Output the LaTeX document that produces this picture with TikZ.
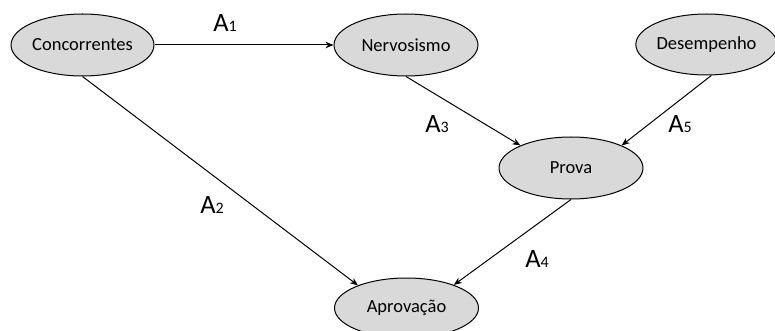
\documentclass[tikz,border=0pt]{standalone}
\usepackage{fontspec}
\setmainfont{Carlito}
\usetikzlibrary{shapes.geometric,arrows.meta}
\definecolor{nodefill}{HTML}{D9D9D9}
\tikzset{
  var/.style={ellipse, draw=black, line width=1pt, fill=nodefill, inner sep=0pt,
    font=\fontsize{18.5}{21}\selectfont},
  link/.style={draw=black, line width=1pt, -{Stealth[length=8pt,width=6.5pt]}},
  lbl/.style={inner sep=0pt, anchor=base},
}
\newcommand{\arclabel}[2]{{\fontsize{26.5}{30}\selectfont #1}{\fontsize{16}{19}\selectfont #2}}
\begin{document}
\begin{tikzpicture}[x=1pt, y=-1pt]
  \useasboundingbox (0,0) rectangle (775,331);
  % variables
  \node[var, minimum width=143pt, minimum height=62pt] (conc) at (82.5,45) {Concorrentes};
  \node[var, minimum width=144pt, minimum height=62pt] (nerv) at (406,45) {Nervosismo};
  \node[var, minimum width=131pt, minimum height=61pt] (des) at (706.5,44.5) {Desempenho};
  \node[var, minimum width=144pt, minimum height=62pt] (prova) at (571,168) {Prova};
  \node[var, minimum width=144pt, minimum height=60pt] (aprov) at (406.5,308) {Aprovação};
  % influences
  \draw[link] (conc.east) -- (nerv.west);
  \draw[link] (conc.south) -- (aprov.155);
  \draw[link] (nerv.south) -- (prova.156);
  \draw[link] (des.-81) -- (prova.24);
  \draw[link] (prova.south) -- (aprov.26);
  % arc labels
  \node[lbl] (l1) at (225,31.5) {\arclabel{A}{1}};
  \node[lbl] (l2) at (212,213) {\arclabel{A}{2}};
  \node[lbl] (l3) at (437,133) {\arclabel{A}{3}};
  \node[lbl] (l5) at (680,133) {\arclabel{A}{5}};
  \node[lbl] (l4) at (537,267) {\arclabel{A}{4}};
\end{tikzpicture}
\end{document}
